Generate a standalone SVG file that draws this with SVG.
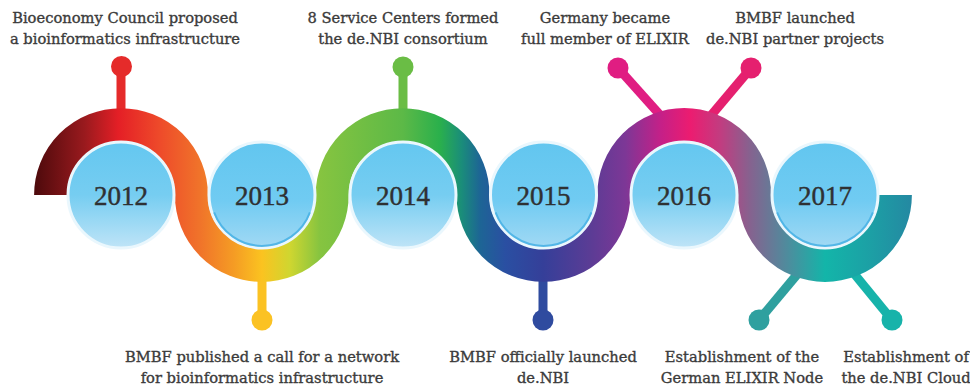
<svg xmlns="http://www.w3.org/2000/svg" width="970" height="389" viewBox="0 0 970 389">
  <defs>
    <!-- rainbow colouring of the wavy band, running left to right -->
    <linearGradient id="bandGrad" gradientUnits="userSpaceOnUse" x1="35" y1="0" x2="911" y2="0">
      <stop offset="0" stop-color="#4e0a0c"/>
      <stop offset="0.057" stop-color="#9a1a1e"/>
      <stop offset="0.095" stop-color="#e41f26"/>
      <stop offset="0.142" stop-color="#ee4a2a"/>
      <stop offset="0.188" stop-color="#f0732a"/>
      <stop offset="0.228" stop-color="#f59d24"/>
      <stop offset="0.259" stop-color="#fbc320"/>
      <stop offset="0.291" stop-color="#cfd630"/>
      <stop offset="0.325" stop-color="#86c440"/>
      <stop offset="0.420" stop-color="#5cb947"/>
      <stop offset="0.462" stop-color="#2ab04c"/>
      <stop offset="0.487" stop-color="#1a8d7a"/>
      <stop offset="0.508" stop-color="#1d6595"/>
      <stop offset="0.537" stop-color="#2a4fa2"/>
      <stop offset="0.580" stop-color="#353f99"/>
      <stop offset="0.634" stop-color="#5b3c95"/>
      <stop offset="0.674" stop-color="#7d3796"/>
      <stop offset="0.714" stop-color="#c42088"/>
      <stop offset="0.748" stop-color="#ec1c70"/>
      <stop offset="0.782" stop-color="#c23c80"/>
      <stop offset="0.816" stop-color="#86628f"/>
      <stop offset="0.862" stop-color="#4a8f9e"/>
      <stop offset="0.902" stop-color="#13b5a9"/>
      <stop offset="0.953" stop-color="#1ca0a5"/>
      <stop offset="1" stop-color="#2489a2"/>
    </linearGradient>
    <!-- year bubbles: bright top fading lighter toward the bottom -->
    <linearGradient id="bubbleUp" x1="0" y1="0" x2="0" y2="1">
      <stop offset="0" stop-color="#64c7f0"/>
      <stop offset="0.5" stop-color="#76cdf1"/>
      <stop offset="1" stop-color="#bfe4f7"/>
    </linearGradient>
    <linearGradient id="bubbleDown" x1="0" y1="0" x2="0" y2="1">
      <stop offset="0" stop-color="#62c6ef"/>
      <stop offset="0.55" stop-color="#70cbf2"/>
      <stop offset="1" stop-color="#a2d9f4"/>
    </linearGradient>
  </defs>

  <style>
    .label { font-family: "DejaVu Serif", "Liberation Serif", serif; font-size: 14.7px; fill: #3b3b3b; stroke: #3b3b3b; stroke-width: 0.35px; text-anchor: middle; }
    .year { font-family: "Liberation Serif", "DejaVu Serif", serif; font-size: 27px; fill: #2f3133; stroke: #2f3133; stroke-width: 0.45px; text-anchor: middle; }
    .stem { stroke-width: 9; stroke-linecap: butt; fill: none; }
    .rim { stroke: #eaf7fd; stroke-width: 3; }
    .shade { fill: none; stroke: #45b0e4; stroke-width: 2; opacity: 0.85; }
  </style>

  <!-- pins and the wavy band -->
  <g id="connectors">
    <!-- 2012 -->
    <line class="stem" x1="121" y1="66" x2="121" y2="118" stroke="#e52b2a"/>
    <circle cx="121.5" cy="66.5" r="10.5" fill="#e52b2a"/>
    <!-- 2013 -->
    <line class="stem" x1="262" y1="272" x2="262" y2="320" stroke="#fbc223"/>
    <circle cx="262" cy="320" r="10.5" fill="#fbc223"/>
    <!-- 2014 -->
    <line class="stem" x1="403" y1="67" x2="403" y2="118" stroke="#6abd45"/>
    <circle cx="403" cy="67" r="10.5" fill="#6abd45"/>
    <!-- 2015 -->
    <line class="stem" x1="543" y1="272" x2="543" y2="320" stroke="#2f4b9f"/>
    <circle cx="543" cy="320" r="10.5" fill="#2f4b9f"/>
    <!-- 2016 -->
    <line class="stem" x1="618" y1="68" x2="669" y2="125" stroke="#e01d82"/>
    <circle cx="618" cy="68" r="10.5" fill="#e01d82"/>
    <line class="stem" x1="751" y1="68" x2="703" y2="125" stroke="#e5206f"/>
    <circle cx="751" cy="68" r="10.5" fill="#e5206f"/>
    <!-- 2017 -->
    <line class="stem" x1="759" y1="320" x2="805" y2="265" stroke="#2fa09f"/>
    <circle cx="759" cy="320" r="10.5" fill="#2fa09f"/>
    <line class="stem" x1="892" y1="320" x2="847" y2="265" stroke="#17b3aa"/>
    <circle cx="892" cy="320" r="10.5" fill="#17b3aa"/>

    <path id="band" d="M 50.6 195 A 70.4 70.4 0 0 1 191.4 195 A 70.4 70.4 0 0 0 332.2 195 A 70.4 70.4 0 0 1 473 195 A 70.4 70.4 0 0 0 613.8 195 A 70.4 70.4 0 0 1 754.6 195 A 70.4 70.4 0 0 0 895.4 195" fill="none" stroke="url(#bandGrad)" stroke-width="33" stroke-linecap="butt"/>
  </g>

  <!-- year bubbles -->
  <g id="y2012">
    <circle class="rim" cx="121" cy="195" r="53" fill="url(#bubbleUp)"/>
    <text class="year" x="121" y="204.5">2012</text>
  </g>
  <g id="y2013">
    <circle class="rim" cx="262" cy="195" r="53" fill="url(#bubbleDown)"/>
    <path class="shade" d="M 214.1 212.4 A 51 51 0 0 0 309.9 212.4"/>
    <text class="year" x="262" y="204.5">2013</text>
  </g>
  <g id="y2014">
    <circle class="rim" cx="403" cy="195" r="53" fill="url(#bubbleUp)"/>
    <text class="year" x="403" y="204.5">2014</text>
  </g>
  <g id="y2015">
    <circle class="rim" cx="543.5" cy="195" r="53" fill="url(#bubbleDown)"/>
    <path class="shade" d="M 495.6 212.4 A 51 51 0 0 0 591.4 212.4"/>
    <text class="year" x="543.5" y="204.5">2015</text>
  </g>
  <g id="y2016">
    <circle class="rim" cx="684" cy="195" r="53" fill="url(#bubbleUp)"/>
    <text class="year" x="684" y="204.5">2016</text>
  </g>
  <g id="y2017">
    <circle class="rim" cx="825" cy="195" r="53" fill="url(#bubbleDown)"/>
    <path class="shade" d="M 777.1 212.4 A 51 51 0 0 0 872.9 212.4"/>
    <text class="year" x="825" y="204.5">2017</text>
  </g>

  <!-- event captions above the band -->
  <g id="e2012">
    <text class="label" x="125" y="23">Bioeconomy Council proposed</text>
    <text class="label" x="125" y="43.5">a bioinformatics infrastructure</text>
  </g>
  <g id="e2014">
    <text class="label" x="403" y="23">8 Service Centers formed</text>
    <text class="label" x="403" y="43.5">the de.NBI consortium</text>
  </g>
  <g id="e2016a">
    <text class="label" x="605" y="23">Germany became</text>
    <text class="label" x="605" y="43.5">full member of ELIXIR</text>
  </g>
  <g id="e2016b">
    <text class="label" x="795" y="23">BMBF launched</text>
    <text class="label" x="795" y="43.5">de.NBI partner projects</text>
  </g>

  <!-- event captions below the band -->
  <g id="e2013">
    <text class="label" x="262" y="362">BMBF published a call for a network</text>
    <text class="label" x="262" y="383">for bioinformatics infrastructure</text>
  </g>
  <g id="e2015">
    <text class="label" x="543" y="362">BMBF officially launched</text>
    <text class="label" x="543" y="383">de.NBI</text>
  </g>
  <g id="e2017a">
    <text class="label" x="742" y="362">Establishment of the</text>
    <text class="label" x="742" y="383">German ELIXIR Node</text>
  </g>
  <g id="e2017b">
    <text class="label" x="906" y="362">Establishment of</text>
    <text class="label" x="906" y="383">the de.NBI Cloud</text>
  </g>
</svg>
